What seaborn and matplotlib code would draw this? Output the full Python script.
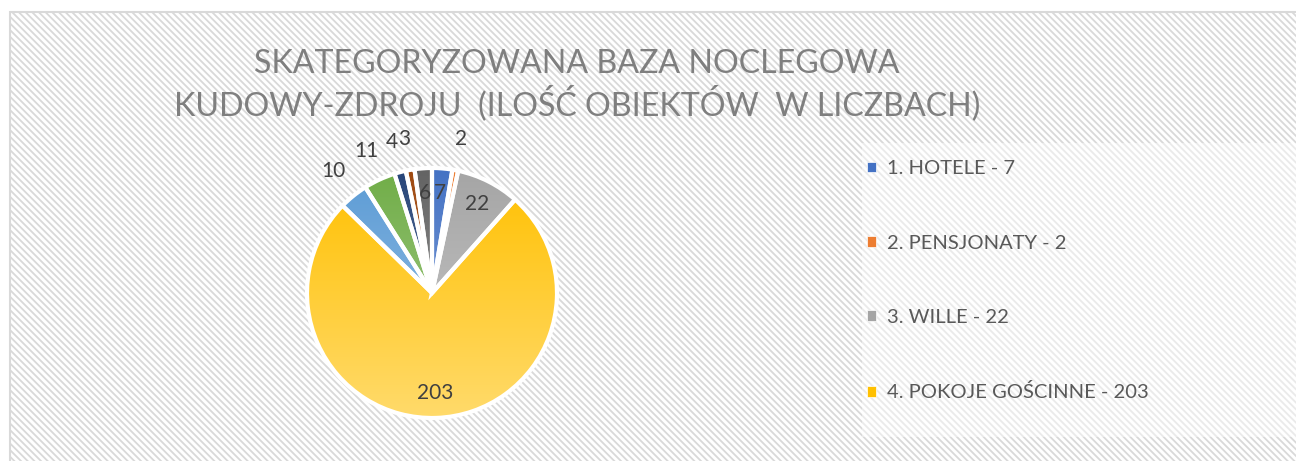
import numpy as np
import matplotlib
matplotlib.use("Agg")
import matplotlib.pyplot as plt
import matplotlib.colors as mcolors
from matplotlib.patches import Rectangle
import seaborn as sns

# ---- data ----
categories = ["1. HOTELE", "2. PENSJONATY", "3. WILLE", "4. POKOJE GOŚCINNE",
              "5.", "6.", "7.", "8.", "9."]
values = [7, 2, 22, 203, 10, 11, 4, 3, 6]
legend_count = 4  # only the first four entries are visible in the legend
label_inside = [True, False, True, True, False, False, False, False, True]
title_lines = ["SKATEGORYZOWANA BAZA NOCLEGOWA",
               "KUDOWY-ZDROJU  (ILOŚĆ OBIEKTÓW  W LICZBACH)"]

colors = ["#4472C4", "#ED7D31", "#A5A5A5", "#FFC000", "#5B9BD5",
          "#70AD47", "#264478", "#9E480E", "#636363"]

sns.set_theme(style="white")
plt.rcParams["font.family"] = ["Lato", "DejaVu Sans"]
plt.rcParams["hatch.linewidth"] = 1.3
plt.rcParams["hatch.color"] = "#e2e2e2"

W, H = 1296, 461
fig = plt.figure(figsize=(W / 100, H / 100), dpi=100)
fig.patch.set_facecolor("white")

# background panel with diagonal stripes
bg = fig.add_axes([0, 0, 1, 1], zorder=-5)
bg.set_xlim(0, W)
bg.set_ylim(H, 0)
bg.axis("off")
bg.add_patch(Rectangle((10, 12), W - 8, H, facecolor="white",
                       edgecolor="#d9d9d9", linewidth=1.5, hatch="\\\\\\\\\\"))
# lighter legend area
bg.add_patch(Rectangle((862, 143), W - 862, 294, facecolor="white",
                       edgecolor="none", alpha=0.45))

# pie axes
cx, cy, r = 432, 293, 125
ax = fig.add_axes([(cx - r) / W, (H - cy - r) / H, 2 * r / W, 2 * r / H])
ax.set_xlim(-1, 1)
ax.set_ylim(-1, 1)
ax.set_aspect("equal")
ax.axis("off")
ax.patch.set_alpha(0)

wedges, _ = ax.pie(values, colors=colors, startangle=90, counterclock=False,
                   radius=1, wedgeprops=dict(linewidth=0))

# vertical gradient fill (darker top, lighter bottom) clipped to each wedge
grad = np.linspace(0, 1, 256)[:, None]
for w, c in zip(wedges, colors):
    base = np.array(mcolors.to_rgb(c))
    t = 0.42 * grad
    img = base[None, None, :] * (1 - t[..., None]) + t[..., None]
    img = np.repeat(img, 2, axis=1)
    im = ax.imshow(img, extent=[-1, 1, -1, 1], origin="upper",
                   aspect="auto", zorder=2, interpolation="bilinear")
    im.set_clip_path(w)

# white separators on top
ax.pie(values, colors=["none"] * len(values), startangle=90, counterclock=False,
       radius=1, wedgeprops=dict(linewidth=3, edgecolor="white", zorder=3))
ax.set_xlim(-1, 1)
ax.set_ylim(-1, 1)

# data labels
for w, v, inside in zip(wedges, values, label_inside):
    ang = np.deg2rad((w.theta1 + w.theta2) / 2)
    d = 0.8 if inside else 1.25
    ax.text(d * np.cos(ang), d * np.sin(ang), str(v), ha="center", va="center",
            fontsize=15, color="#404040", zorder=5)

# title
fig.text(577 / W, 1 - 85 / H, "\n".join(title_lines), ha="center", va="center",
         multialignment="center", fontsize=23.1, color="#7f7f7f", linespacing=1.23)

# legend (first four entries)
handles = [Rectangle((0, 0), 1, 1, facecolor=c, edgecolor="white", linewidth=0.5)
           for c in colors[:legend_count]]
labels = [f"{n} - {v}" for n, v in zip(categories[:legend_count], values[:legend_count])]
fig.legend(handles, labels, loc="upper left",
           bbox_to_anchor=(849 / W, 1 - 142 / H), frameon=False,
           fontsize=14.5, labelcolor="#595959", handlelength=0.45,
           handleheight=0.45, handletextpad=0.55, labelspacing=2.85)

fig.savefig("out.png", dpi=100)
